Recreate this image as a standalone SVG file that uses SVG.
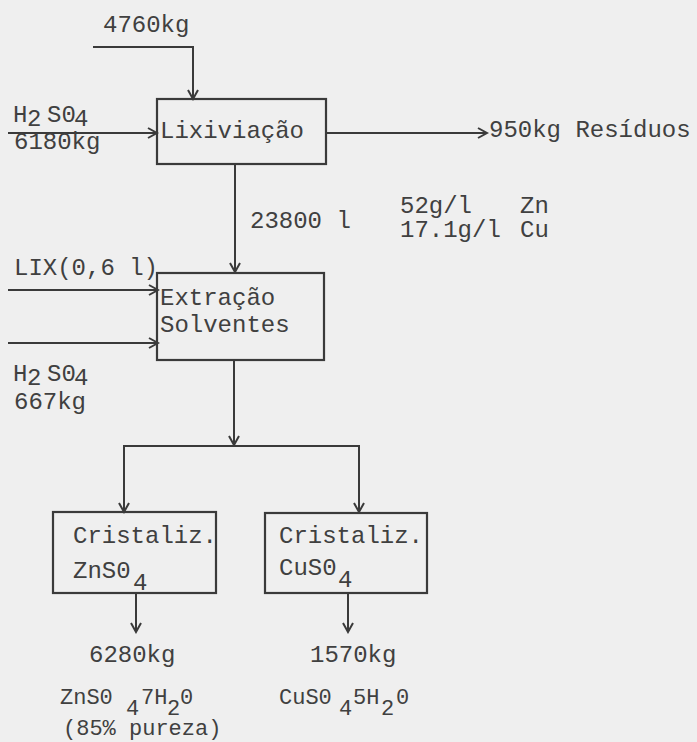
<svg xmlns="http://www.w3.org/2000/svg" width="697" height="742" viewBox="0 0 697 742">
<style>
text{font-family:"Liberation Mono","Courier New",monospace;font-size:24px;fill:#404040}
.sm{font-size:22px}
.box{fill:none;stroke:#3a3a3a;stroke-width:2.2}
.ln{fill:none;stroke:#3a3a3a;stroke-width:2}
</style>
<defs>
<marker id="ah" viewBox="0 0 12 12" refX="10" refY="6" markerWidth="12" markerHeight="12" markerUnits="userSpaceOnUse" orient="auto">
<path d="M1,1 L10,6 L1,11" fill="none" stroke="#3a3a3a" stroke-width="2"/>
</marker>
</defs>
<rect width="697" height="742" fill="#efefef"/>
<g id="connectors">
<polyline class="ln" points="93,47 193,47 193,99" marker-end="url(#ah)"/>
<line class="ln" x1="8" y1="133" x2="157" y2="133" marker-end="url(#ah)"/>
<line class="ln" x1="326" y1="133" x2="487" y2="133" marker-end="url(#ah)"/>
<line class="ln" x1="235" y1="164" x2="235" y2="272" marker-end="url(#ah)"/>
<line class="ln" x1="8" y1="290" x2="158" y2="290" marker-end="url(#ah)"/>
<line class="ln" x1="8" y1="343" x2="158" y2="343" marker-end="url(#ah)"/>
<line class="ln" x1="234" y1="360" x2="234" y2="445" marker-end="url(#ah)"/>
<polyline class="ln" points="124,512 124,446 359,446 359,512"/>
<line class="ln" x1="124" y1="490" x2="124" y2="512" marker-end="url(#ah)"/>
<line class="ln" x1="359" y1="490" x2="359" y2="512" marker-end="url(#ah)"/>
<line class="ln" x1="136" y1="593" x2="136" y2="632" marker-end="url(#ah)"/>
<line class="ln" x1="348" y1="593" x2="348" y2="632" marker-end="url(#ah)"/>
</g>
<g id="lixiviacao">
<rect class="box" x="157" y="99" width="169" height="65"/>
<text x="160" y="138">Lixiviação</text>
</g>
<g id="extracao">
<rect class="box" x="157" y="273" width="167" height="87"/>
<text x="160" y="305">Extração</text>
<text x="160" y="332">Solventes</text>
</g>
<g id="crist-zn">
<rect class="box" x="53" y="512" width="163" height="81"/>
<text x="73" y="543">Cristaliz.</text>
<text x="73" y="578">ZnS0<tspan x="133" y="590">4</tspan></text>
</g>
<g id="crist-cu">
<rect class="box" x="265" y="513" width="162" height="80"/>
<text x="279" y="543">Cristaliz.</text>
<text x="279" y="575">CuS0<tspan x="338" y="587">4</tspan></text>
</g>
<g id="labels">
<text x="103" y="32">4760kg</text>
<text x="13" y="122">H<tspan x="27" y="126">2</tspan><tspan x="47" y="122">S0</tspan><tspan x="74" y="126">4</tspan></text>
<text x="14" y="149">6180kg</text>
<text x="489" y="137">950kg Resíduos</text>
<text x="250" y="228">23800 l</text>
<text x="400" y="213">52g/l</text>
<text x="520" y="213">Zn</text>
<text x="400" y="237">17.1g/l</text>
<text x="520" y="237">Cu</text>
<text x="14" y="275">LIX(0,6 l)</text>
<text x="13" y="381">H<tspan x="27" y="385">2</tspan><tspan x="47" y="381">S0</tspan><tspan x="74" y="385">4</tspan></text>
<text x="14" y="409">667kg</text>
<text x="89" y="662">6280kg</text>
<text x="310" y="662">1570kg</text>
<text class="sm" x="60" y="704">ZnS0<tspan x="126" y="715">4</tspan><tspan x="141" y="704">7H</tspan><tspan x="167" y="715">2</tspan><tspan x="180" y="704">0</tspan></text>
<text class="sm" x="63" y="735">(85% pureza)</text>
<text class="sm" x="279" y="704">CuS0<tspan x="339" y="715">4</tspan><tspan x="353" y="704">5H</tspan><tspan x="381" y="715">2</tspan><tspan x="396" y="704">0</tspan></text>
</g>
</svg>
